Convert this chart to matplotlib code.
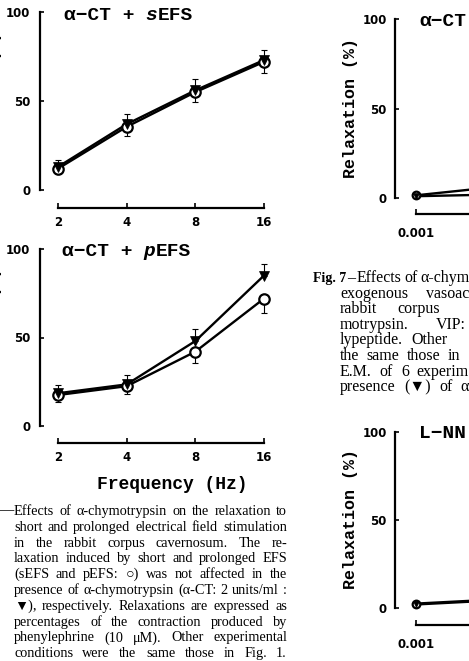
import matplotlib
matplotlib.use('Agg')
import matplotlib.pyplot as plt

# ---------------- data ----------------
freq = [2, 4, 8, 16]
freq_labels = ['2', '4', '8', '16']
yticks = [0, 50, 100]
ytick_labels = ['0', '50', '100']

sefs_ctrl = [12, 35.5, 55, 72]
sefs_ctrl_err = [3, 5, 5.5, 6]
sefs_act = [13, 37, 56, 73]
sefs_act_err = [4, 5.5, 6.5, 5.5]

pefs_ctrl = [17.5, 22.5, 42, 72]
pefs_ctrl_err = [4, 4.5, 6.5, 8]
pefs_act = [18.5, 23.5, 48, 85]
pefs_act_err = [4.5, 5.3, 7, 6.5]

conc = [0.001, 0.01]
conc_ticks = [0.001]
conc_labels = ['0.001']
vip_ctrl = [1.5, 5.5]
vip_act = [1.0, 1.8]
lnn_ctrl = [2.5, 4.5]
lnn_act = [2.0, 4.0]

caption6 = [
    "Effects of α-chymotrypsin on the relaxation to",
    "short and prolonged electrical field stimulation",
    "in the rabbit corpus cavernosum. The re-",
    "laxation induced by short and prolonged EFS",
    "(sEFS and pEFS: ○) was not affected in the",
    "presence of α-chymotrypsin (α-CT: 2 units/ml :",
    "▼), respectively. Relaxations are expressed as",
    "percentages of the contraction produced by",
    "phenylephrine (10 μM). Other experimental",
    "conditions were the same those in Fig. 1.",
]
# Fig. 7 caption, cut by the page edge: (text, justified right edge or None)
caption7 = [
    ("Effects of α-chym", 469),
    ("exogenous vasoac", 469),
    ("rabbit corpus", 440),
    ("motrypsin. VIP:", 466),
    ("lypeptide. Other", 448),
    ("the same those in", 460),
    ("E.M. of 6 experim", 469),
    ("presence (▼) of α", 469),
]

# ---------------- figure ----------------
W, H = 469, 661
fig = plt.figure(figsize=(W / 100, H / 100), dpi=100)
fig.patch.set_facecolor('white')

MONO = 'Liberation Mono'
SERIF = ['Liberation Serif', 'DejaVu Serif', 'DejaVu Sans']
TICKF = 'DejaVu Sans'


def px_axes(x0, y0, x1, y1):
    return fig.add_axes([x0 / W, 1 - y1 / H, (x1 - x0) / W, (y1 - y0) / H])


def T(x, y, s, **kw):
    return fig.text(x / W, 1 - y / H, s, **kw)


def style(ax, xb, xt, xl, out_px, xpad, ypad):
    for s in ('top', 'right'):
        ax.spines[s].set_visible(False)
    ax.spines['left'].set_bounds(0, 100)
    ax.spines['left'].set_linewidth(1.6)
    ax.spines['bottom'].set_bounds(*xb)
    ax.spines['bottom'].set_linewidth(1.6)
    ax.spines['bottom'].set_position(('outward', out_px * 0.72))
    ax.set_ylim(0, 100)
    ax.set_yticks(yticks)
    ax.set_yticklabels(ytick_labels)
    ax.set_xticks(xt)
    ax.set_xticklabels(xl)
    ax.minorticks_off()
    ax.tick_params(axis='y', direction='in', length=3, width=1.2, pad=ypad)
    ax.tick_params(axis='x', direction='in', length=3.5, width=1.2, pad=xpad)
    for lab in ax.get_xticklabels() + ax.get_yticklabels():
        lab.set_fontfamily(TICKF)
        lab.set_fontweight('bold')
        lab.set_fontsize(8.5)
    ax.patch.set_alpha(0)


def draw_series(ax, x, ctrl, ctrl_err, act, act_err, ms_c=7.5, ms_t=6.5):
    zeros = [0] * len(x)
    ax.plot(x, act, '-', color='k', lw=1.7, zorder=2, clip_on=False)
    ax.plot(x, ctrl, '-', color='k', lw=1.7, zorder=2, clip_on=False)
    if ctrl_err is not None:
        ax.errorbar(x, ctrl, yerr=[ctrl_err, zeros], fmt='none', ecolor='k',
                    elinewidth=0.8, capsize=2.4, capthick=0.8, zorder=1, clip_on=False)
        ax.errorbar(x, act, yerr=[zeros, act_err], fmt='none', ecolor='k',
                    elinewidth=0.8, capsize=2.4, capthick=0.8, zorder=1, clip_on=False)
    ax.plot(x, ctrl, 'o', ms=ms_c, mfc='white', mec='k', mew=1.6, zorder=3, clip_on=False)
    ax.plot(x, act, 'v', ms=ms_t, mfc='k', mec='k', mew=0.5, zorder=4, clip_on=False)


# left top : sEFS
oct_px = (264 - 58) / 3.0
xleft = 2 * 2 ** (-(58 - 40) / oct_px)
ax1 = px_axes(40, 12, 264, 190)
ax1.set_xscale('log', base=2)
ax1.set_xlim(xleft, 16)
draw_series(ax1, freq, sefs_ctrl, sefs_ctrl_err, sefs_act, sefs_act_err)
style(ax1, (2, 16), freq, freq_labels, 18, 6, 7)

# left bottom : pEFS
ax2 = px_axes(40, 249, 264, 426)
ax2.set_xscale('log', base=2)
ax2.set_xlim(xleft, 16)
draw_series(ax2, freq, pefs_ctrl, pefs_ctrl_err, pefs_act, pefs_act_err)
style(ax2, (2, 16), freq, freq_labels, 17, 6, 7)

# right charts (partly outside the page)
dec_px = 68.0
rx0, rx1 = 395, 600
cxl = 10 ** (-3 - (416 - rx0) / dec_px)
cxr = 10 ** (-3 + (rx1 - 416) / dec_px)

ax3 = px_axes(rx0, 19, rx1, 198)
ax3.set_xscale('log')
ax3.set_xlim(cxl, cxr)
draw_series(ax3, conc, vip_ctrl, None, vip_act, None, ms_c=5.5, ms_t=4.5)
style(ax3, (0.001, cxr), conc_ticks, conc_labels, 15.5, 10, 6)

ax4 = px_axes(rx0, 432, rx1, 608)
ax4.set_xscale('log')
ax4.set_xlim(cxl, cxr)
draw_series(ax4, conc, lnn_ctrl, None, lnn_act, None, ms_c=5.5, ms_t=4.5)
style(ax4, (0.001, cxr), conc_ticks, conc_labels, 16.5, 10, 6)

# ---------------- titles ----------------
fs_t = 14
cw = 0.6 * fs_t * 100 / 72  # monospace char width in px


def mono_title(x, y, parts):
    cx = x
    for s, italic in parts:
        T(cx, y, s, family=MONO, weight='bold', style='italic' if italic else 'normal',
          fontsize=fs_t, va='baseline', ha='left')
        cx += cw * len(s)


mono_title(64, 20, [("α−CT + ", False), ("s", True), ("EFS", False)])
mono_title(62, 256, [("α−CT + ", False), ("p", True), ("EFS", False)])
mono_title(419, 26, [("α−CT", False)])
mono_title(419, 438, [("L−NN", False)])

T(97, 489, "Frequency (Hz)", family=MONO, weight='bold', fontsize=13, va='baseline', ha='left')

for (xc, yc) in [(-5, 101), (-5, 337), (350, 108), (350, 519)]:
    T(xc, yc, "Relaxation (%)", family=MONO, weight='bold', fontsize=12,
      rotation=90, ha='center', va='center')

# ---------------- captions ----------------
renderer = fig.canvas.get_renderer()
fs_c = 10.3


def justify(line, x0, x1, y, fs=fs_c, mingap=2.5):
    words = line.split()
    texts = [T(0, y, w, family=SERIF, fontsize=fs, va='baseline', ha='left') for w in words]
    widths = [t.get_window_extent(renderer).width for t in texts]
    need = sum(widths) + mingap * (len(words) - 1)
    if need > (x1 - x0):
        f = fs * (x1 - x0) / need
        for t in texts:
            t.set_fontsize(f)
        widths = [t.get_window_extent(renderer).width for t in texts]
    gap = (x1 - x0 - sum(widths)) / max(len(words) - 1, 1)
    x = x0
    for t, w in zip(texts, widths):
        t.set_position((x / W, 1 - y / H))
        x += w + gap


T(-1, 511, "—", family=SERIF, fontsize=fs_c, va='center', ha='left')
for i, line in enumerate(caption6):
    justify(line, 14, 287, 515 + i * 15.8)

fs_c7 = 11.5
T(313, 282, "Fig. 7", family=SERIF, weight='bold', fontsize=10, va='baseline', ha='left')
T(347, 282, "–", family=SERIF, fontsize=fs_c7, va='baseline', ha='left')
for i, (line, xr) in enumerate(caption7):
    x0 = 357 if i == 0 else 340
    justify(line, x0, xr, 282 + i * 15.6, fs=fs_c7)

fig.savefig('out.png', dpi=100)
